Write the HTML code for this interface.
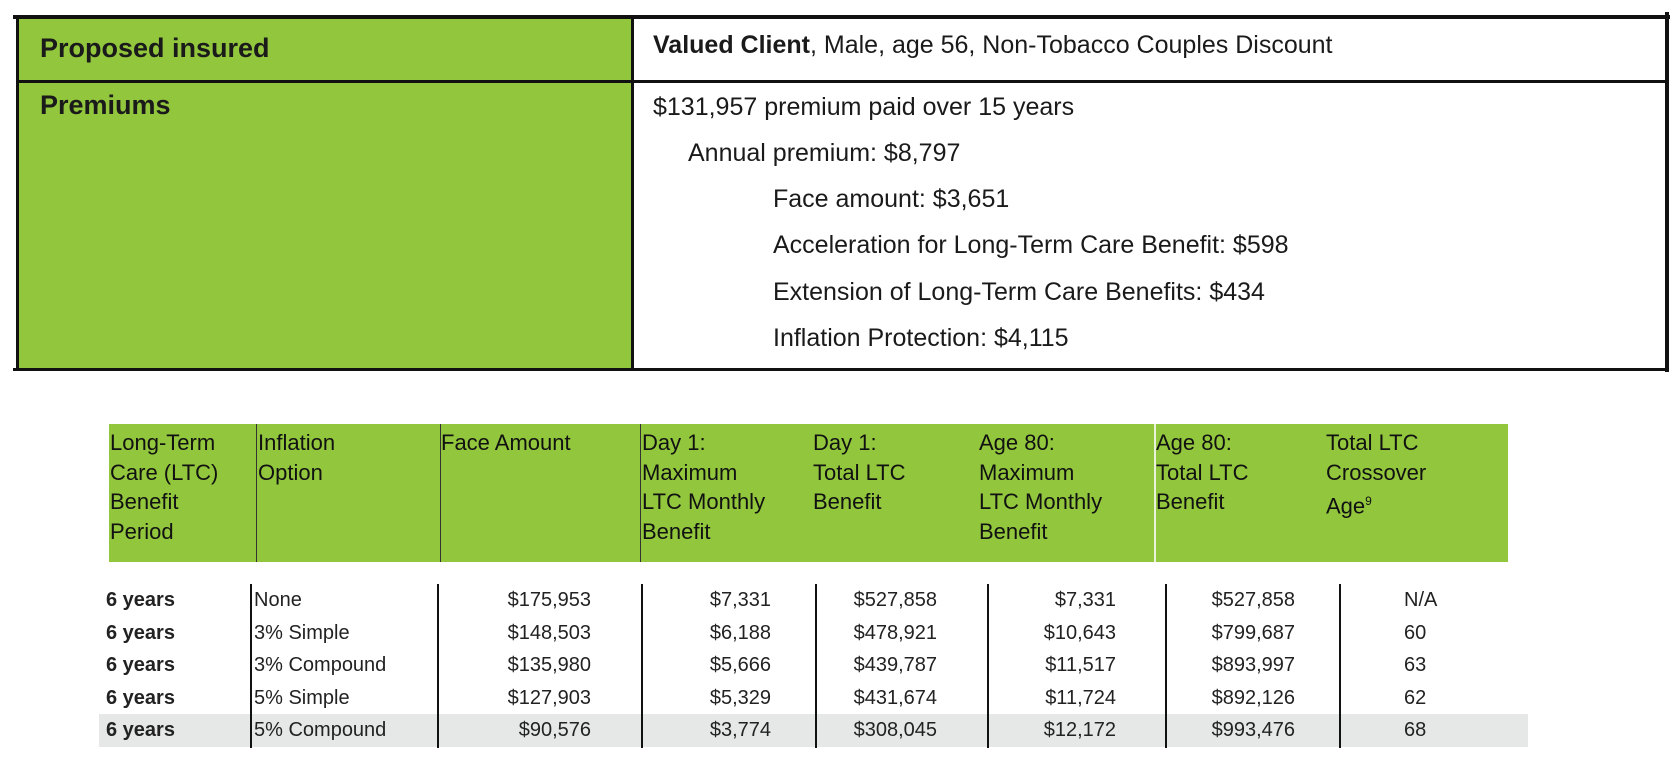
<!DOCTYPE html>
<html><head><meta charset="utf-8"><style>
*{margin:0;padding:0;box-sizing:border-box}
body{width:1677px;height:767px;background:#fff;position:relative;overflow:hidden;font-family:"Liberation Sans",Arial,sans-serif;color:#1a1a1a}
.a{position:absolute;white-space:nowrap}
.g{background:#92c73d}
.ln{position:absolute;background:#111}
.tt{font-size:25px;line-height:30px}
.hd{font-size:22px;line-height:29.5px;color:#111}
.d{font-size:20px;line-height:24px;color:#222}
.r{text-align:right}
.b{font-weight:bold}
</style></head><body>
<!-- Top summary table -->
<div>
<div class="a g" style="left:18px;top:16px;width:614px;height:353px"></div>
<div class="ln" style="left:13px;top:15px;width:1657px;height:4px"></div>
<div class="ln" style="left:16px;top:15px;width:3px;height:356px"></div>
<div class="ln" style="left:1665px;top:12px;width:4px;height:360px"></div>
<div class="ln" style="left:631px;top:15px;width:3px;height:356px"></div>
<div class="ln" style="left:16px;top:80px;width:1652px;height:3px"></div>
<div class="ln" style="left:13px;top:368px;width:1656px;height:3px"></div>
<div class="a tt b" style="left:40px;top:33px;font-size:27px">Proposed insured</div>
<div class="a tt b" style="left:40px;top:90px;font-size:27px">Premiums</div>
<div class="a tt" style="left:653px;top:30px"><b>Valued Client</b>, Male, age 56, Non-Tobacco Couples Discount</div>
<div class="a tt" style="left:653px;top:92px">$131,957 premium paid over 15 years</div>
<div class="a tt" style="left:688px;top:138px">Annual premium: $8,797</div>
<div class="a tt" style="left:773px;top:184px">Face amount: $3,651</div>
<div class="a tt" style="left:773px;top:230px">Acceleration for Long-Term Care Benefit: $598</div>
<div class="a tt" style="left:773px;top:277px">Extension of Long-Term Care Benefits: $434</div>
<div class="a tt" style="left:773px;top:323px">Inflation Protection: $4,115</div>
</div>
<!-- Benefit table -->
<div>
<div class="a g" style="left:109px;top:424px;width:1399px;height:138px"></div>
<div class="ln" style="left:256px;top:424px;width:1px;height:138px;background:#333"></div>
<div class="ln" style="left:440px;top:424px;width:1px;height:138px;background:#333"></div>
<div class="ln" style="left:640px;top:424px;width:1px;height:138px;background:#333"></div>
<div class="ln" style="left:1154px;top:424px;width:2px;height:138px;background:#e8f2d8"></div>
<div class="a hd" style="left:110px;top:428px">Long-Term<br>Care (LTC)<br>Benefit<br>Period</div>
<div class="a hd" style="left:258px;top:428px">Inflation<br>Option</div>
<div class="a hd" style="left:441px;top:428px">Face Amount</div>
<div class="a hd" style="left:642px;top:428px">Day 1:<br>Maximum<br>LTC Monthly<br>Benefit</div>
<div class="a hd" style="left:813px;top:428px">Day 1:<br>Total LTC<br>Benefit</div>
<div class="a hd" style="left:979px;top:428px">Age 80:<br>Maximum<br>LTC Monthly<br>Benefit</div>
<div class="a hd" style="left:1156px;top:428px">Age 80:<br>Total LTC<br>Benefit</div>
<div class="a hd" style="left:1326px;top:428px">Total LTC<br>Crossover<br>Age<sup style="font-size:12px">9</sup></div>

<div class="a" style="left:99px;top:714px;width:1429px;height:33px;background:#e6e7e7"></div>
<div class="ln" style="left:250px;top:584px;width:2px;height:164px"></div>
<div class="ln" style="left:437px;top:584px;width:2px;height:164px"></div>
<div class="ln" style="left:641px;top:584px;width:2px;height:164px"></div>
<div class="ln" style="left:815px;top:584px;width:2px;height:164px"></div>
<div class="ln" style="left:987px;top:584px;width:2px;height:164px"></div>
<div class="ln" style="left:1165px;top:584px;width:2px;height:164px"></div>
<div class="ln" style="left:1339px;top:584px;width:2px;height:164px"></div>
<div id="rows"></div>
</div>
<script>
const periods=["6 years","6 years","6 years","6 years","6 years"];
const options=["None","3% Simple","3% Compound","5% Simple","5% Compound"];
const face=["$175,953","$148,503","$135,980","$127,903","$90,576"];
const day1Monthly=["$7,331","$6,188","$5,666","$5,329","$3,774"];
const day1Total=["$527,858","$478,921","$439,787","$431,674","$308,045"];
const age80Monthly=["$7,331","$10,643","$11,517","$11,724","$12,172"];
const age80Total=["$527,858","$799,687","$893,997","$892,126","$993,476"];
const crossover=["N/A","60","63","62","68"];
const host=document.getElementById('rows');
function cell(txt,cls,style,name){
  const d=document.createElement('div');
  d.className='a d '+cls;
  d.setAttribute('style',style);
  d.textContent=txt;
  
  
  host.appendChild(d);
}
for(let i=0;i<periods.length;i++){
  const t=(588+i*32.5)+'px';
  cell(periods[i],'b','left:106px;top:'+t,'benefit-period-cell');
  cell(options[i],'','left:254px;top:'+t,'inflation-option-cell');
  cell(face[i],'r','right:'+(1677-591)+'px;top:'+t,'face-amount-cell');
  cell(day1Monthly[i],'r','right:'+(1677-771)+'px;top:'+t,'day1-monthly-cell');
  cell(day1Total[i],'r','right:'+(1677-937)+'px;top:'+t,'day1-total-cell');
  cell(age80Monthly[i],'r','right:'+(1677-1116)+'px;top:'+t,'age80-monthly-cell');
  cell(age80Total[i],'r','right:'+(1677-1295)+'px;top:'+t,'age80-total-cell');
  cell(crossover[i],'','left:1404px;top:'+t,'crossover-age-cell');
}
</script>
</body></html>
